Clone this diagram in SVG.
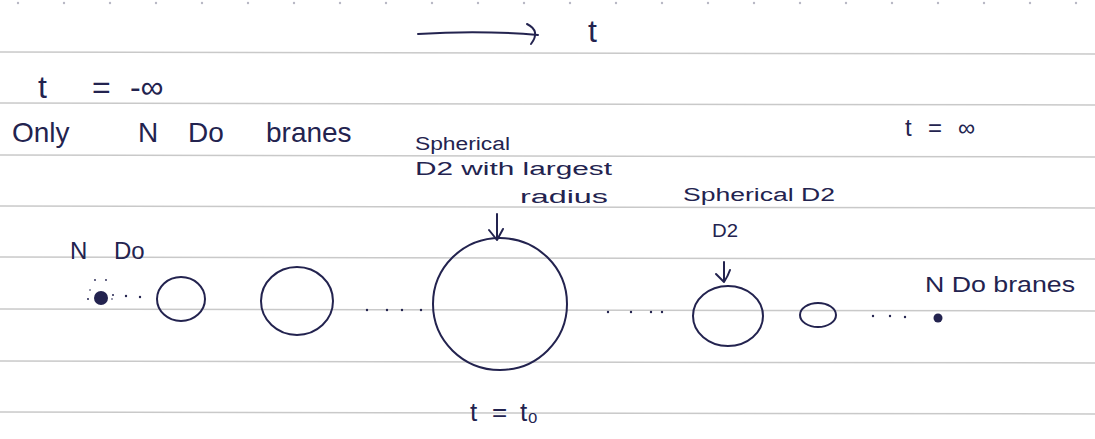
<svg xmlns="http://www.w3.org/2000/svg" width="1095" height="439" viewBox="0 0 1095 439">
<style>
.ink{fill:none;stroke:#23234f;stroke-width:2;stroke-linecap:round;stroke-linejoin:round}
.txt{fill:#23234f;font-family:"Liberation Sans","DejaVu Sans",sans-serif;font-weight:normal}
.rule{stroke:#c9c9c9;stroke-width:1.5}
.dot{fill:#23234f}
.perf{fill:#b8b8c4}
</style>
<rect width="1095" height="439" fill="#ffffff"/>
<g id="paper">
<line class="rule" x1="0" y1="52" x2="1095" y2="54"/>
<line class="rule" x1="0" y1="103" x2="1095" y2="105"/>
<line class="rule" x1="0" y1="155" x2="1095" y2="157"/>
<line class="rule" x1="0" y1="206" x2="1095" y2="208"/>
<line class="rule" x1="0" y1="257" x2="1095" y2="259"/>
<line class="rule" x1="0" y1="309" x2="1095" y2="311"/>
<line class="rule" x1="0" y1="361" x2="1095" y2="363"/>
<line class="rule" x1="0" y1="412" x2="1095" y2="414"/>
<g>
<circle class="perf" cx="18" cy="3" r="1.2"/><circle class="perf" cx="64" cy="3" r="1.2"/><circle class="perf" cx="110" cy="3" r="1.2"/><circle class="perf" cx="156" cy="3" r="1.2"/><circle class="perf" cx="202" cy="3" r="1.2"/><circle class="perf" cx="248" cy="3" r="1.2"/><circle class="perf" cx="294" cy="3" r="1.2"/><circle class="perf" cx="340" cy="3" r="1.2"/><circle class="perf" cx="386" cy="3" r="1.2"/><circle class="perf" cx="432" cy="3" r="1.2"/><circle class="perf" cx="478" cy="3" r="1.2"/><circle class="perf" cx="524" cy="3" r="1.2"/><circle class="perf" cx="570" cy="3" r="1.2"/><circle class="perf" cx="616" cy="3" r="1.2"/><circle class="perf" cx="662" cy="3" r="1.2"/><circle class="perf" cx="708" cy="3" r="1.2"/><circle class="perf" cx="754" cy="3" r="1.2"/><circle class="perf" cx="800" cy="3" r="1.2"/><circle class="perf" cx="846" cy="3" r="1.2"/><circle class="perf" cx="892" cy="3" r="1.2"/><circle class="perf" cx="938" cy="3" r="1.2"/><circle class="perf" cx="984" cy="3" r="1.2"/><circle class="perf" cx="1030" cy="3" r="1.2"/><circle class="perf" cx="1076" cy="3" r="1.2"/>
</g>
</g>

<g id="time-axis">
<path class="ink" d="M418 34 Q480 30 538 35"/>
<path class="ink" d="M527 24 Q541 31 531 44"/>
<text class="txt" x="588" y="42" font-size="32">t</text>
</g>

<g id="label-start">
<text class="txt" y="98" font-size="32"><tspan x="38">t</tspan><tspan x="92">=</tspan><tspan x="130">-∞</tspan></text>
<text class="txt" y="142" font-size="28"><tspan x="12">Only</tspan><tspan x="138">N</tspan><tspan x="188">Do</tspan><tspan x="266">branes</tspan></text>
</g>

<g id="label-end">
<text class="txt" y="136" font-size="24"><tspan x="905">t</tspan><tspan x="928">=</tspan><tspan x="958">∞</tspan></text>
</g>

<g id="label-largest">
<text class="txt" font-size="18"><tspan x="415" y="150" textLength="95" lengthAdjust="spacingAndGlyphs">Spherical</tspan><tspan x="415" y="175" textLength="197" lengthAdjust="spacingAndGlyphs">D2 with largest</tspan><tspan x="520" y="203" textLength="88" lengthAdjust="spacingAndGlyphs">radius</tspan></text>
</g>

<g id="label-d2">
<text class="txt" font-size="18"><tspan x="683" y="201" textLength="152" lengthAdjust="spacingAndGlyphs">Spherical D2</tspan><tspan x="712" y="237" textLength="26" lengthAdjust="spacingAndGlyphs">D2</tspan></text>
</g>

<g id="node-d0-start">
<text class="txt" font-size="24"><tspan x="70" y="259">N</tspan><tspan x="114" y="259">Do</tspan></text>
<circle class="dot" cx="101" cy="298" r="7"/>
<circle class="dot" cx="88" cy="299" r="1"/><circle class="dot" cx="95" cy="280" r="0.9"/><circle class="dot" cx="106" cy="280" r="0.9"/><circle class="dot" cx="113" cy="295" r="1"/><circle class="dot" cx="112" cy="299" r="0.8"/><circle class="dot" cx="90" cy="290" r="0.8"/>
</g>

<g id="node-circle-1"><ellipse class="ink" cx="181" cy="299" rx="24" ry="22"/></g>
<g id="node-circle-2"><ellipse class="ink" cx="297" cy="301" rx="36" ry="34"/></g>
<g id="node-circle-largest"><ellipse class="ink" cx="500" cy="304" rx="67" ry="66"/></g>
<g id="node-circle-4"><ellipse class="ink" cx="728" cy="316" rx="35" ry="30"/></g>
<g id="node-circle-5"><ellipse class="ink" cx="818" cy="315" rx="18" ry="12"/></g>

<g id="node-d0-end">
<text class="txt" font-size="22" x="925" y="292" textLength="150" lengthAdjust="spacingAndGlyphs">N Do branes</text>
<circle class="dot" cx="938" cy="318" r="4.5"/>
</g>

<g id="label-t0">
<text class="txt" font-size="26" y="421"><tspan x="470">t</tspan><tspan x="492">=</tspan><tspan x="520">t₀</tspan></text>
</g>

<g id="connectors">
<g class="dot">
<circle cx="126" cy="296" r="1.2"/><circle cx="140" cy="297" r="1.2"/>
<circle cx="367" cy="310" r="1.2"/><circle cx="387" cy="310" r="1.2"/><circle cx="402" cy="310" r="1.2"/><circle cx="421" cy="310" r="1.2"/>
<circle cx="608" cy="312" r="1.2"/><circle cx="631" cy="312" r="1.2"/><circle cx="651" cy="312" r="1.2"/><circle cx="662" cy="312" r="1.2"/>
<circle cx="873" cy="316" r="1.2"/><circle cx="890" cy="316" r="1.2"/><circle cx="905" cy="317" r="1.2"/>
</g>
<path class="ink" d="M497 214 L497 240 M489 230 L497 240 L503 229"/>
<path class="ink" d="M724 262 L724 282 M716 274 Q722 280 724 282 Q728 276 730 270"/>
</g>
</svg>
